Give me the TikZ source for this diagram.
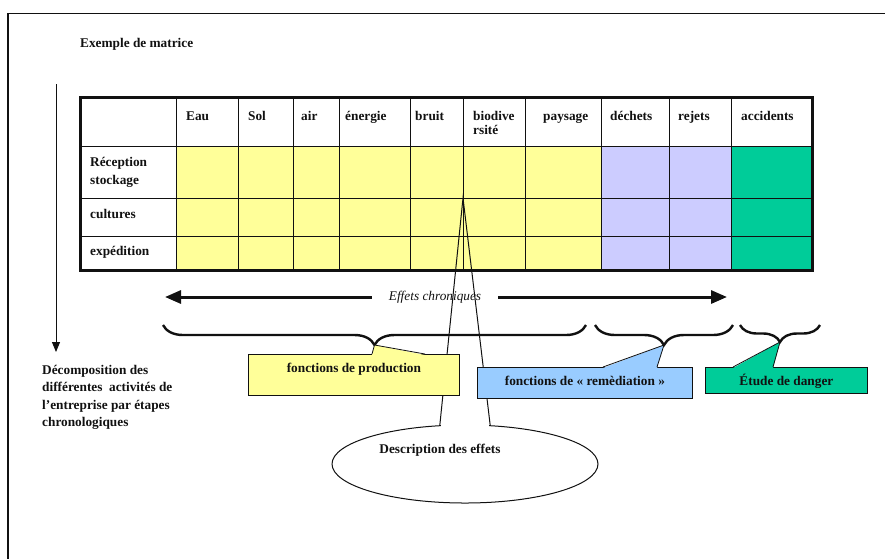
\documentclass[tikz,border=0pt]{standalone}
\usepackage{fontspec}
\setmainfont{Liberation Serif}
\usetikzlibrary{arrows.meta,calc,decorations.pathreplacing,shapes.geometric}
\definecolor{ink}{HTML}{111111}
\definecolor{prodfill}{HTML}{FFFF99}
\definecolor{remfill}{HTML}{CCCCFF}
\definecolor{dangfill}{HTML}{00CC99}
\definecolor{remboxfill}{HTML}{99CCFF}

\begin{document}
\begin{tikzpicture}[x=1pt,y=-1pt,>=Triangle,
  txt/.style={font=\fontsize{13.3}{17.5}\selectfont\bfseries,text=ink,inner sep=0pt},
  hdr/.style={txt,anchor=base west},
  callbox/.style={txt,draw=ink,line width=0.8pt,minimum height=#1,anchor=north west},
  brc/.style={draw=ink,line width=2.4pt,decorate,decoration={brace,mirror,amplitude=#1}},
  grid/.style={ink,line width=0.8pt}]
\useasboundingbox (0,0) rectangle (885,558);
\draw[ink,line width=1.6pt] (8,570) -- (8,13.5) -- (900,13.5);

\fill[prodfill] (176,146) rectangle (601,270);
\fill[remfill] (601,146) rectangle (731,270);
\fill[dangfill] (731,146) rectangle (812,270);
\foreach \x in {176,238,293,339,410,463,525,601,669,731}
  \draw[grid] (\x,97) -- (\x,270);
\foreach \y in {146,198,236}
  \draw[grid] (80,\y) -- (812,\y);
\draw[ink,line width=3pt] (80,97) rectangle (812,270);

\foreach \x/\t [count=\i] in {186/Eau,248/Sol,301/air,345/énergie,415/bruit,543/paysage,610/déchets,678/rejets,741/accidents}
  \node[hdr] (h\i) at (\x,120) {\t};
\node[hdr,align=left] (hbio) at (473,134) {biodive\\[-3.5pt]rsité};
\node[hdr,align=left] (r1) at (90,184) {Réception\\stockage};
\node[hdr] (r2) at (90,218) {cultures};
\node[hdr] (r3) at (90,255) {expédition};
\node[hdr] (title) at (80,47) {Exemple de matrice};

\coordinate (stepTop) at (56,84);
\coordinate (stepBot) at (56,352);
\draw[ink,line width=0.9pt,-{Triangle[length=10pt,width=8pt]}] (stepTop) -- (stepBot);
\node[hdr,align=left] (decomp) at (42,426.5) {Décomposition des\\différentes~ activités de\\l’entreprise par étapes\\chronologiques};

\node[txt,font=\fontsize{13.3}{15}\selectfont\itshape,inner xsep=17pt] (chron) at (435,297) {Effets chroniques};
\coordinate (chronL) at (165,297);
\coordinate (chronR) at (727,297);
\draw[ink,line width=3pt,-{Triangle[length=16pt,width=13pt]}] (chron.west) -- (chronL);
\draw[ink,line width=3pt,-{Triangle[length=16pt,width=13pt]}] (chron.east) -- (chronR);

\node[draw=ink,line width=1pt,ellipse,fill=white,minimum width=266pt,minimum height=78pt,inner sep=0pt] (effets) at (465,464) {};
\node[txt] (effetsTxt) at (440,450) {Description des effets};
\fill[white] (441,420) rectangle (489,430);
\coordinate (cellTip) at (463,198);
\draw[ink,line width=1pt] (effets.123) -- (cellTip) -- (effets.57);

\draw[brc=20pt] (163,325) -- (586,325);
\draw[brc=20pt] (595,325) -- (733,325);
\draw[brc=17pt] (740,325) -- (820,325);

\node[callbox=41pt,fill=prodfill,minimum width=211pt,text height=9pt,text depth=13pt] (prod) at (248,354) {fonctions de production};
\coordinate (prodTip) at (374.5,345);
\fill[prodfill] ($(prod.north west)+(124,1)$) -- (prodTip) -- ($(prod.north west)+(177,1)$) -- cycle;
\draw[ink,line width=0.8pt] ($(prod.north west)+(124,0)$) -- (prodTip) -- ($(prod.north west)+(177,0)$);

\node[callbox=31pt,fill=remboxfill,minimum width=215pt,text height=9pt,text depth=3pt] (remed) at (477,367) {fonctions de «~remèdiation~»};
\coordinate (remedTip) at (664,345);
\fill[remboxfill] ($(remed.north west)+(126,1)$) -- (remedTip) -- ($(remed.north west)+(180,1)$) -- cycle;
\draw[ink,line width=0.8pt] ($(remed.north west)+(126,0)$) -- (remedTip) -- ($(remed.north west)+(180,0)$);

\node[callbox=26pt,fill=dangfill,minimum width=162pt,text height=12pt,text depth=2pt] (danger) at (705,367) {Étude de danger};
\coordinate (dangerTip) at (780,342);
\fill[dangfill] ($(danger.north west)+(28,1)$) -- (dangerTip) -- ($(danger.north west)+(68,1)$) -- cycle;
\draw[ink,line width=0.8pt] ($(danger.north west)+(28,0)$) -- (dangerTip) -- ($(danger.north west)+(68,0)$);
\end{tikzpicture}
\end{document}
